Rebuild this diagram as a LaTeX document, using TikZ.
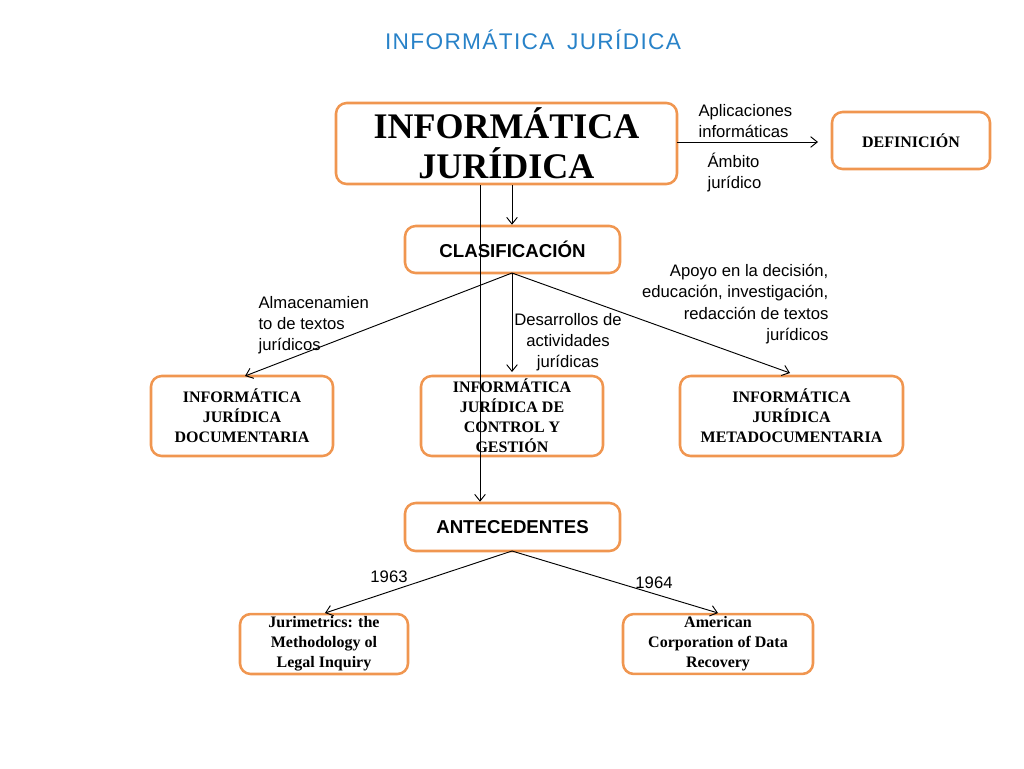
\documentclass[tikz,border=0pt]{standalone}
\usepackage{fontspec}
\setmainfont{Liberation Serif}
\setsansfont{Liberation Sans}
\usetikzlibrary{arrows.meta}
\definecolor{org}{RGB}{240,150,80}
\definecolor{ttl}{RGB}{40,130,200}
\begin{document}
\begin{tikzpicture}[x=0.75pt,y=-0.75pt,
 box/.style={draw=org,line width=1.9pt,rounded corners=8pt,align=center,font=\bfseries\fontsize{12}{15}\selectfont,inner sep=2pt},
 lab/.style={font=\sffamily\fontsize{12.5}{15.8}\selectfont,align=left,inner sep=1pt},
 arr/.style={-{Straight Barb[length=5pt,width=8pt]},line width=0.7pt}]
\useasboundingbox (0,0) rectangle (1024,768);
\node[font=\sffamily\fontsize{17}{20}\selectfont,text=ttl] (title) at (533,40) {I\kern1pt N\kern1pt F\kern1pt O\kern1pt R\kern1pt M\kern1pt Á\kern1pt T\kern1pt I\kern1pt C\kern1pt A\ \ J\kern1pt U\kern1pt R\kern1pt Í\kern1pt D\kern1pt I\kern1pt C\kern1pt A};
\node[box,minimum width=341*0.75pt,minimum height=81*0.75pt,font=\bfseries\fontsize{27}{30}\selectfont] (m) at (506.5,143.5) {INFORMÁTICA\\JURÍDICA};
\node[box,minimum width=158*0.75pt,minimum height=57*0.75pt] (def) at (911,140.5) {DEFINICIÓN};
\node[box,minimum width=215*0.75pt,minimum height=47*0.75pt,font=\sffamily\bfseries\fontsize{14}{16}\selectfont] (c) at (512.5,249.5) {CLASIFICACIÓN};
\node[box,minimum width=182*0.75pt,minimum height=80*0.75pt] (d) at (242,416) {INFORMÁTICA\\JURÍDICA\\DOCUMENTARIA};
\node[box,minimum width=182*0.75pt,minimum height=80*0.75pt] (g) at (512,416) {INFORMÁTICA\\JURÍDICA DE\\CONTROL Y\\GESTIÓN};
\node[box,minimum width=223*0.75pt,minimum height=80*0.75pt] (md) at (791.5,416) {INFORMÁTICA\\JURÍDICA\\METADOCUMENTARIA};
\node[box,minimum width=215*0.75pt,minimum height=48*0.75pt,font=\sffamily\bfseries\fontsize{14}{16}\selectfont] (a) at (512.5,527) {ANTECEDENTES};
\node[box,minimum width=168*0.75pt,minimum height=58*0.75pt] (j) at (324,644) {Jurimetrics: the\\Methodology ol\\Legal Inquiry};
\node[box,minimum width=190*0.75pt,minimum height=58*0.75pt] (ac) at (718,644) {American\\Corporation of Data\\Recovery};
\coordinate (mr) at (677,142);
\coordinate (dl) at (818,142);
\draw[arr] (mr) -- (dl);
\draw[arr] (m.south -| 512,0) -- (c.north -| 512,0);
\draw[arr] (m.south -| 480,0) -- (a.north -| 480,0);
\coordinate (cb) at (512,273);
\coordinate (ab) at (512,551);
\draw[arr] (cb) -- (245,376);
\draw[arr] (cb) -- (512,372);
\draw[arr] (cb) -- (790,373);
\draw[arr] (ab) -- (325,613);
\draw[arr] (ab) -- (718,613);
\node[lab,anchor=north west] (l1) at (697,103) {Aplicaciones\\informáticas};
\node[lab,anchor=north west] (l2) at (706,151) {Ámbito\\jurídico};
\node[lab,anchor=north west] (l3) at (257,295) {Almacenamien\\to de textos\\jurídicos};
\node[lab,anchor=north,align=center] (l4) at (568,312) {Desarrollos de\\actividades\\jurídicas};
\node[lab,anchor=north east,align=right] (l5) at (830,263) {Apoyo en la decisión,\\educación, investigación,\\redacción de textos\\jurídicos};
\node[lab] (y1) at (389,577) {1963};
\node[lab] (y2) at (654,583) {1964};
\end{tikzpicture}
\end{document}
